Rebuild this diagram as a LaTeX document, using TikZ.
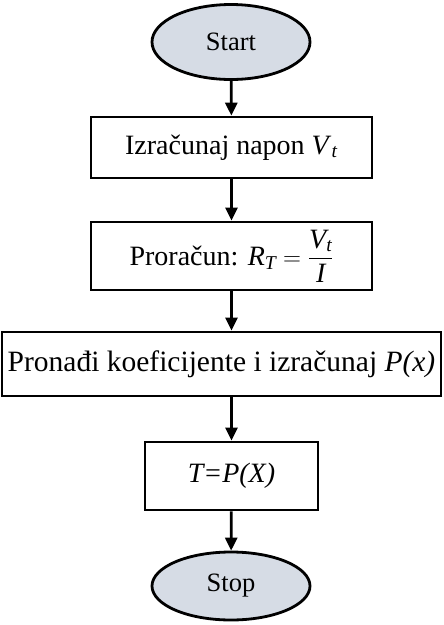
\documentclass[tikz,border=0pt]{standalone}
\usepackage{amsmath}
\usepackage{fontspec}
\setmainfont{Liberation Serif}
\usetikzlibrary{shapes,arrows.meta}
\definecolor{termfill}{RGB}{214,220,229}
\tikzset{term/.style={ellipse,draw=black,fill=termfill,line width=2.8pt,inner sep=0pt,minimum width=158pt,minimum height=75pt,font=\fontsize{26.5}{31}\selectfont}}
\tikzset{proc/.style={rectangle,draw=black,line width=2.8pt,inner sep=0pt,minimum height=68pt,font=\fontsize{28}{33}\selectfont}}
\tikzset{arr/.style={-{Triangle[length=13pt,width=12pt]},line width=2.8pt}}

\begin{document}
\begin{tikzpicture}[x=1pt,y=-1pt]
\useasboundingbox (0,0) rectangle (444,625);
\node (start) at (231,42) [term] {Start};
\node (napon) at (231.5,147.5) [proc,minimum width=281pt,minimum height=61pt] {Izračunaj napon \textit{V}\textsubscript{\textit{t}}};
\node (racun) at (231.5,256) [proc,minimum width=281pt] {Proračun: $\textit{R}_{\textit{T}}=\dfrac{\textit{V}_{\textit{t}}}{\textit{I}}$};
\node (koef) at (221.5,364) [proc,minimum width=439pt,minimum height=64pt,font=\fontsize{29.5}{34}\selectfont] {Pronađi koeficijente i izračunaj \textit{P(x)}};
\node (temp) at (231.5,476) [proc,minimum width=173pt] {\textit{T=P(X)}};
\node (stop) at (231,586) [term,minimum height=68pt] {Stop};
\draw[arr] (start)--(napon);
\draw[arr] (napon)--(racun);
\draw[arr] (racun)--(racun|-koef.north);
\draw[arr] (koef.south-|temp)--(temp);
\draw[arr] (temp)--(stop);
\end{tikzpicture}
\end{document}
